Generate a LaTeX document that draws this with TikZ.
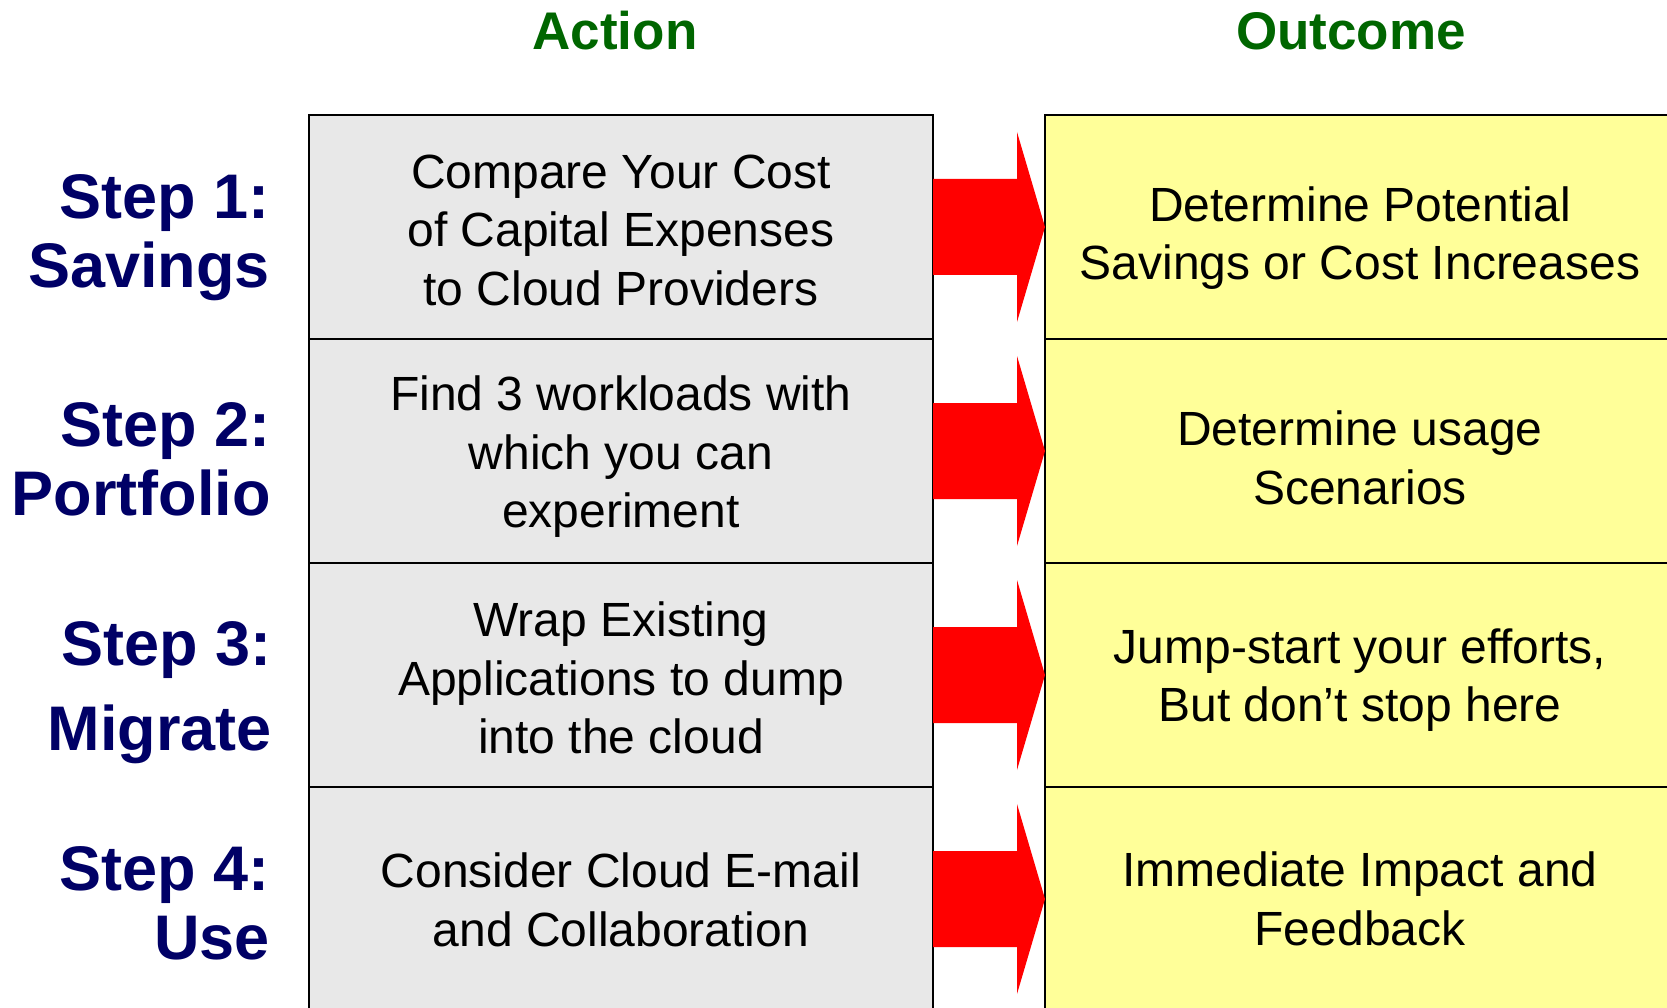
\documentclass[tikz,border=0pt]{standalone}
\usepackage{fontspec}
\setmainfont{Liberation Sans}
\usetikzlibrary{calc}
\definecolor{hdrgreen}{HTML}{006600}
\definecolor{stepnavy}{HTML}{000066}
\definecolor{cellgray}{HTML}{E8E8E8}
\definecolor{cellyellow}{HTML}{FFFF99}
\definecolor{arrowred}{HTML}{FF0000}
\begin{document}
\begin{tikzpicture}[x=1pt,y=-1pt,
  hdr/.style={font=\fontsize{53}{60}\bfseries\selectfont, text=hdrgreen, inner sep=0pt, anchor=base},
  steplbl/.style={font=\fontsize{63}{69}\bfseries\selectfont, text=stepnavy, inner sep=0pt, align=right, anchor=east},
  cellbase/.style={draw=black, line width=2.5pt, inner sep=0pt, outer sep=0pt, minimum height=224pt},
  actcell/.style={cellbase, fill=cellgray, minimum width=624pt},
  outcell/.style={cellbase, fill=cellyellow, minimum width=630pt},
  celltext/.style={inner sep=0pt, align=center, font=\fontsize{48}{58.5}\selectfont},
  blockarrow/.style={fill=arrowred, draw=none}
]
\useasboundingbox (0,0) rectangle (1667,1008);
\clip (0,0) rectangle (1667,1008);
\fill[white] (0,0) rectangle (1667,1008);

% headers
\node[hdr] (hAction) at (615,50) {Action};
\node[hdr] (hOutcome) at (1351,50) {Outcome};

% action cells
\node[actcell] (a1) at (621,227) {};
\node[actcell] (a2) at (621,451) {};
\node[actcell] (a3) at (621,675) {};
\node[actcell] (a4) at (621,899) {};
\node[celltext] (a1t) at ([yshift=-3pt]a1.center) {Compare Your Cost\\of Capital Expenses\\to Cloud Providers};
\node[celltext] (a2t) at ([yshift=-6pt]a2.center) {Find 3 workloads with\\which you can\\experiment};
\node[celltext] (a3t) at ([yshift=-3pt]a3.center) {Wrap Existing\\Applications to dump\\into the cloud};
\node[celltext] (a4t) at ([yshift=-1pt]a4.center) {Consider Cloud E-mail\\and Collaboration};

% outcome cells
\node[outcell] (o1) at (1360,227) {};
\node[outcell] (o2) at (1360,451) {};
\node[outcell] (o3) at (1360,675) {};
\node[outcell] (o4) at (1360,899) {};
\node[celltext] (o1t) at ([yshift=-11pt]o1.center) {Determine Potential\\Savings or Cost Increases};
\node[celltext] (o2t) at ([yshift=-7pt]o2.center) {Determine usage\\Scenarios};
\node[celltext] (o3t) at ([yshift=-5pt]o3.center) {Jump-start your efforts,\\But don’t stop here};
\node[celltext] (o4t) at ([yshift=0pt]o4.center) {Immediate Impact and\\Feedback};

% step labels
\node[steplbl] (s1) at (270,238) {Step 1:\\Savings};
\node[steplbl] (s2) at (271,459) {Step 2:\\Portfolio};
\node[steplbl, font=\fontsize{63}{85}\bfseries\selectfont] (s3) at (272,693) {Step 3:\\Migrate};
\node[steplbl] (s4) at (270,903) {Step 4:\\Use};

% block arrows
\foreach \i in {1,2,3,4}{
  \fill[blockarrow] ([yshift=48pt]a\i.east) -| ([xshift=-28pt,yshift=95pt]o\i.west)
     -- (o\i.west) -- ([xshift=-28pt,yshift=-95pt]o\i.west)
     |- ([yshift=-48pt]a\i.east) -- cycle;
}
\end{tikzpicture}
\end{document}
